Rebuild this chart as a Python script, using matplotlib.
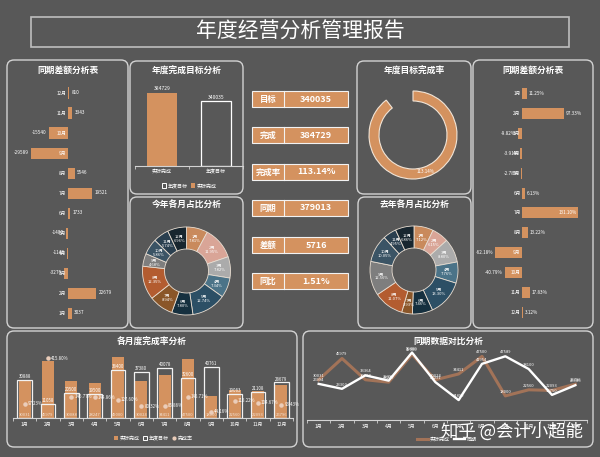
import matplotlib
matplotlib.use("Agg")
import matplotlib.pyplot as plt
import numpy as np
from matplotlib.patches import FancyBboxPatch, Rectangle, Patch
from matplotlib.lines import Line2D

plt.rcParams["font.family"] = ["Noto Sans CJK SC", "DejaVu Sans"]

# ---- data ----
months = ["1月", "2月", "3月", "4月", "5月", "6月", "7月", "8月", "9月", "10月", "11月", "12月"]
actual = [30031, 45979, 30088, 28247, 49000, 30024, 34411, 47500, 18000, 22560, 22093, 26796]
target = [30888, 11058, 20500, 19500, 38400, 37380, 40078, 32600, 40761, 19083, 21108, 28679]
last_year = [26994, 23300, 33364, 29395, 50400, 28291, 14890, 41954, 47589, 38100, 18750, 25986]

donut_colors = ["#C98A5C", "#D9A597", "#ABABAB", "#4B7388", "#2C4F65", "#16303F",
                "#8A5629", "#B35C30", "#7E7E7E", "#3B5465", "#2A3F4F", "#18262F"]

BG = "#585858"
ORANGE = "#D4925F"
EDGE = "#D3D3D3"
W, H = 600, 457

actual = np.array(actual, dtype=float)
target = np.array(target, dtype=float)
last_year = np.array(last_year, dtype=float)
diff = actual - last_year
pct = diff / last_year * 100
rate = actual / target * 100

fig = plt.figure(figsize=(W / 100, H / 100), dpi=100, facecolor=BG)

bg = fig.add_axes([0, 0, 1, 1])
bg.set_xlim(0, W)
bg.set_ylim(H, 0)
bg.axis("off")


def px_ax(x, y, w, h):
    ax = fig.add_axes([x / W, 1 - (y + h) / H, w / W, h / H])
    ax.set_facecolor("none")
    return ax


def panel(x, y, w, h, title=None, ty=None):
    bg.add_patch(FancyBboxPatch((x, y), w, h, boxstyle="round,pad=0,rounding_size=7",
                                fc="none", ec=EDGE, lw=1.0))
    if title:
        bg.text(x + w / 2, ty if ty else y + 10, title, color="white", fontsize=6.3,
                fontweight="bold", ha="center", va="center")


# title bar
bg.add_patch(Rectangle((31, 17), 538, 30, fc="none", ec="#BEBEBE", lw=1.2))
bg.text(300, 32, "年度经营分析管理报告", color="white", fontsize=15, fontweight="medium",
        ha="center", va="center")

panel(7, 60, 121, 268, "同期差额分析表", 70)
panel(130, 61, 113, 133, "年度完成目标分析", 70)
panel(357, 61, 114, 133, "年度目标完成率", 70)
panel(473, 60, 120, 268, "同期差额分析表", 70)
panel(130, 197, 113, 131, "今年各月占比分析", 205)
panel(358, 197, 113, 131, "去年各月占比分析", 205)
panel(7, 331, 290, 116, "各月度完成率分析", 341)
panel(303, 331, 290, 116, "同期数据对比分析", 341)

# ---- left: difference in amount (12月 on top) ----
ax = px_ax(10, 83, 115, 240)
scale = 800
ax.set_xlim(-(68 - 10) * scale, (125 - 68) * scale)
ax.set_ylim(-0.5, 11.5)
ax.barh(range(12), diff, height=0.55, color=ORANGE)
for i, v in enumerate(diff):
    ax.text(-1300, i, months[i], color="white", fontsize=3.4, ha="right", va="center")
    if v >= 0:
        ax.text(v + 1800, i, f"{v:.0f}", color="white", fontsize=3.4, ha="left", va="center")
    else:
        ax.text(v - 1800, i, f"{v:.0f}", color="white", fontsize=3.4, ha="right", va="center")
ax.axis("off")

# ---- right: difference in percent (1月 on top) ----
ax = px_ax(477, 84, 113, 238)
scale = 2.34
lo, hi = -(522 - 477) * scale, (590 - 522) * scale
ax.set_xlim(lo, hi)
ax.set_ylim(11.5, -0.5)
ax.barh(range(12), pct, height=0.55, color=ORANGE)
for i, v in enumerate(pct):
    ax.text(-3, i, months[i], color="white", fontsize=3.4, ha="right", va="center")
    lab = f"{v:.2f}%"
    if v >= 0 and v + 30 < hi:
        ax.text(v + 4, i, lab, color="white", fontsize=3.4, ha="left", va="center")
    elif v >= 0:
        ax.text(v - 2, i, lab, color="white", fontsize=3.4, ha="right", va="center")
    else:
        ax.text(v - 4, i, lab, color="white", fontsize=3.4, ha="right", va="center")
ax.axis("off")

# ---- annual target vs actual ----
ax = px_ax(135, 80, 108, 86)
tot_actual, tot_target, tot_last = actual.sum(), target.sum(), last_year.sum()
ax.set_xlim(-0.5, 1.5)
ax.set_ylim(0, tot_actual * 86 / 73)
ax.bar(0, tot_actual, width=0.57, color=ORANGE)
ax.bar(1, tot_target, width=0.54, fc="none", ec="white", lw=0.9)
ax.text(0, tot_actual * 1.03, f"{tot_actual:.0f}", color="white", fontsize=3.6, ha="center", va="bottom")
ax.text(1, tot_target * 1.03, f"{tot_target:.0f}", color="white", fontsize=3.6, ha="center", va="bottom")
for s in ["top", "left", "right"]:
    ax.spines[s].set_visible(False)
ax.spines["bottom"].set_color(EDGE)
ax.spines["bottom"].set_linewidth(0.8)
ax.set_yticks([])
ax.set_xticks([0, 1], ["实际完成", "年度目标"])
ax.set_xticks([-0.5, 0.5, 1.5], minor=True)
ax.tick_params(axis="x", which="major", length=0, labelsize=3.6, labelcolor="white", pad=2)
ax.tick_params(axis="x", which="minor", length=2.5, color=EDGE)
ax.legend(handles=[Patch(fc="none", ec="white", lw=0.7, label="年度目标"),
                   Patch(fc=ORANGE, label="实际完成")],
          loc="center", bbox_to_anchor=(0.5, -0.23), ncol=2, frameon=False,
          fontsize=3.6, labelcolor="white", handlelength=0.9, handleheight=0.9,
          columnspacing=0.6, handletextpad=0.3)

# ---- KPI boxes ----
kpi_labels = ["目标", "完成", "完成率", "同期", "差额", "同比"]
kpi_values = [f"{tot_target:.0f}", f"{tot_actual:.0f}", f"{tot_actual / tot_target * 100:.2f}%",
              f"{tot_last:.0f}", f"{tot_actual - tot_last:.0f}",
              f"{(tot_actual - tot_last) / tot_last * 100:.2f}%"]
kpi_top = [91, 127, 164, 200, 237, 273]
for lab, val, y in zip(kpi_labels, kpi_values, kpi_top):
    bg.add_patch(Rectangle((252, y), 96, 16, fc=ORANGE, ec="#F2F2F2", lw=0.8))
    bg.plot([284, 284], [y, y + 16], color="#F2F2F2", lw=0.8)
    bg.text(268, y + 8, lab, color="white", fontsize=6, fontweight="bold", ha="center", va="center")
    bg.text(316, y + 8, val, color="white", fontsize=6.5, fontweight="bold", ha="center", va="center")

# ---- completion ring ----
R = 46
ax = px_ax(413 - R, 135 - R, 2 * R, 2 * R)
r_all = tot_actual / tot_target
wedges, _ = ax.pie([r_all, r_all - 1], startangle=90, counterclock=False, radius=44 / R,
                   colors=[ORANGE, "none"],
                   wedgeprops=dict(width=10 / R, edgecolor="#F1E4D6", linewidth=0.8))
wedges[1].set_visible(False)
w0 = wedges[0]
a = np.deg2rad((w0.theta1 + w0.theta2) / 2)
ax.text(0.84 * np.cos(a), 0.84 * np.sin(a), f"{r_all * 100:.2f}%", color="white",
        fontsize=3.3, ha="center", va="center")
ax.set_xlim(-1, 1)
ax.set_ylim(-1, 1)


# ---- monthly share donuts ----
def donut(cx, cy, values):
    ax = px_ax(cx - R, cy - R, 2 * R, 2 * R)
    share = values / values.sum() * 100
    wedges, _ = ax.pie(values, startangle=90, counterclock=False, radius=44 / R,
                       colors=donut_colors,
                       wedgeprops=dict(width=22 / R, edgecolor="#E9DED2", linewidth=0.6))
    for w, m, s in zip(wedges, months, share):
        a = np.deg2rad((w.theta1 + w.theta2) / 2)
        ax.text(0.72 * np.cos(a), 0.72 * np.sin(a), f"{m}\n{s:.2f}%", color="white",
                fontsize=3.0, ha="center", va="center", linespacing=1.0)
    ax.set_xlim(-1, 1)
    ax.set_ylim(-1, 1)


donut(186.5, 271, actual)
donut(414, 270, last_year)

# ---- monthly completion rate ----
ax = px_ax(13, 355, 280, 63)
x = np.arange(12)
ax.set_xlim(-0.5, 11.5)
ax.set_ylim(0, 63 * 805)
ax.bar(x, actual, width=0.52, color=ORANGE, zorder=2)
ax.bar(x, target, width=0.63, fc="none", ec="#F2F2F2", lw=0.9, zorder=3)
for i in range(12):
    ax.text(i, target[i] + 700, f"{target[i]:.0f}", color="white", fontsize=3.2,
            ha="center", va="bottom", zorder=4)
    ax.text(i, 1000, f"{actual[i]:.0f}", color="#F3E3D6", fontsize=3.0,
            ha="center", va="bottom", zorder=4)
for s in ["top", "left", "right"]:
    ax.spines[s].set_visible(False)
ax.spines["bottom"].set_color(EDGE)
ax.spines["bottom"].set_linewidth(0.8)
ax.set_yticks([])
ax.set_xticks(x, months)
ax.set_xticks(np.arange(-0.5, 12, 1), minor=True)
ax.tick_params(axis="x", which="major", length=0, labelsize=3.6, labelcolor="white", pad=3)
ax.tick_params(axis="x", which="minor", length=2.5, color=EDGE)
ax2 = ax.twinx()
ax2.set_ylim(0, 63 * 6.93)
ax2.scatter(x, rate, s=5, color="#EBCDBA", zorder=5)
for i in range(12):
    ax2.text(i + 0.13, rate[i], f"{rate[i]:.2f}%", color="white", fontsize=3.2,
             ha="left", va="center", zorder=5)
ax2.axis("off")
ax.legend(handles=[Patch(fc=ORANGE, label="实际完成"),
                   Patch(fc="none", ec="white", lw=0.7, label="年度目标"),
                   Line2D([], [], ls="none", marker="o", ms=2, color="#EBCDBA", label="完成率")],
          loc="center", bbox_to_anchor=(0.5, -0.32), ncol=3, frameon=False,
          fontsize=3.6, labelcolor="white", handlelength=0.9, handleheight=0.9,
          columnspacing=0.6, handletextpad=0.3)

# ---- year-on-year lines ----
ax = px_ax(307, 348, 280, 72)
ax.set_xlim(-0.5, 11.5)
ax.set_ylim(0, 72 * 747)
ax.plot(x, actual, color="#A27358", lw=2.2, label="实际完成", zorder=2)
ax.plot(x, last_year, color="white", lw=1.7, label="同期", zorder=3)
for i in range(12):
    ax.text(i, actual[i] + 1500, f"{actual[i]:.0f}", color="white", fontsize=3.0,
            ha="center", va="bottom", zorder=4)
    ax.text(i, last_year[i] + 1500, f"{last_year[i]:.0f}", color="white", fontsize=3.0,
            ha="center", va="bottom", zorder=4)
for s in ["top", "left", "right"]:
    ax.spines[s].set_visible(False)
ax.spines["bottom"].set_color(EDGE)
ax.spines["bottom"].set_linewidth(0.8)
ax.set_yticks([])
ax.set_xticks(x, months)
ax.set_xticks(np.arange(-0.5, 12, 1), minor=True)
ax.tick_params(axis="x", which="major", length=0, labelsize=3.6, labelcolor="white", pad=3)
ax.tick_params(axis="x", which="minor", length=2.5, color=EDGE)
ax.legend(loc="center", bbox_to_anchor=(0.5, -0.27), ncol=2, frameon=False,
          fontsize=3.6, labelcolor="white", handlelength=2.2, columnspacing=0.8,
          handletextpad=0.4)

# watermark present in the source picture
bg.text(512, 432, "知乎 @会计小超能", color="white", fontsize=12.5, ha="center", va="center")

fig.savefig("out.png", dpi=100, facecolor=BG)
